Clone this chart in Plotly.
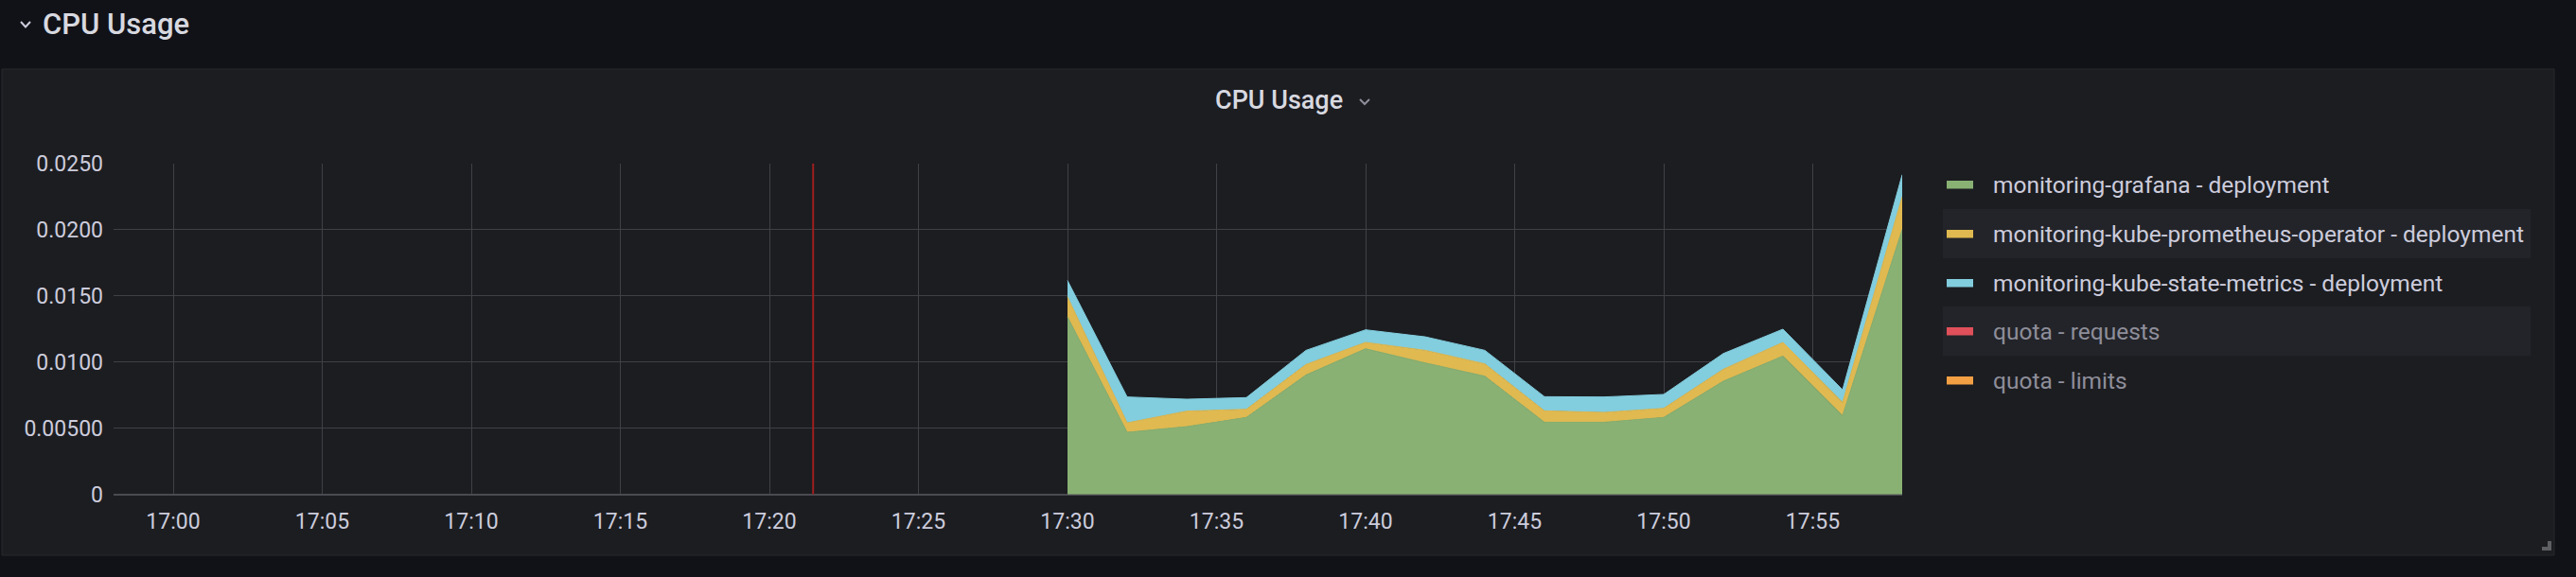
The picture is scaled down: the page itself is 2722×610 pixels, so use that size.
import plotly.graph_objects as go

W, H = 2722, 610

# ---------------- data ----------------
day = "2024-01-01 "
times = ["17:30", "17:32", "17:34", "17:36", "17:38", "17:40", "17:42", "17:44",
         "17:46", "17:48", "17:50", "17:52", "17:54", "17:56", "17:58"]
grafana = [0.01340, 0.00469, 0.00512, 0.00581, 0.00902, 0.01100, 0.00993, 0.00893,
           0.00545, 0.00545, 0.00581, 0.00855, 0.01045, 0.00595, 0.02000]
prom_operator = [0.00152, 0.00071, 0.00117, 0.00062, 0.00079, 0.00048, 0.00095, 0.00093,
                 0.00086, 0.00074, 0.00069, 0.00090, 0.00103, 0.00100, 0.00248]
kube_state = [0.00123, 0.00196, 0.00090, 0.00088, 0.00107, 0.00095, 0.00102, 0.00102,
              0.00107, 0.00117, 0.00105, 0.00119, 0.00100, 0.00095, 0.00166]

legend_names = ["monitoring-grafana - deployment",
                "monitoring-kube-prometheus-operator - deployment",
                "monitoring-kube-state-metrics - deployment",
                "quota - requests",
                "quota - limits"]
legend_active = [True, True, True, False, False]
colors = ["#88b173", "#e0b950", "#82cdde", "#e0505a", "#f2a043"]

y_tickvals = [0, 0.005, 0.010, 0.015, 0.020, 0.025]
y_ticktext = ["0", "0.00500", "0.0100", "0.0150", "0.0200", "0.0250"]
x_range = ["16:58", "17:58"]
annotation_time = "17:21:28"

row_title = "CPU Usage"
panel_title = "CPU Usage"

# ---------------- helpers ----------------
def px(x):
    return x / W

def py(y):
    return 1 - y / H

FONT = "Roboto, 'Open Sans', sans-serif"
TXT = "#ccccdc"
GRID = "#404146"
PANEL = "#1c1d21"
PAGE = "#111217"

fig = go.Figure()
xs = [day + t for t in times]
for name, vals, col in zip(legend_names[:3], [grafana, prom_operator, kube_state], colors[:3]):
    fig.add_trace(go.Scatter(
        x=xs, y=vals, name=name, mode="lines", stackgroup="one",
        line=dict(color=col, width=1), fillcolor=col, hoverinfo="skip",
    ))

shapes = []
# panel background
shapes.append(dict(type="rect", xref="paper", yref="paper", layer="below",
                   x0=px(2), x1=px(2699), y0=py(587), y1=py(73),
                   fillcolor=PANEL, line=dict(color="#27282d", width=1)))
# legend rows
row_y = [195, 247, 299, 350, 402]
for i, (name, col, act) in enumerate(zip(legend_names, colors, legend_active)):
    yc = row_y[i]
    if i % 2 == 1:
        shapes.append(dict(type="rect", xref="paper", yref="paper", layer="below",
                           x0=px(2053), x1=px(2674), y0=py(yc + 26), y1=py(yc - 26),
                           fillcolor="#232429", line=dict(width=0)))
    shapes.append(dict(type="rect", xref="paper", yref="paper",
                       x0=px(2057), x1=px(2085), y0=py(yc + 4.5), y1=py(yc - 4),
                       fillcolor=col, line=dict(width=0)))

# annotation marker (red vertical line)
shapes.append(dict(type="line", xref="x", yref="y",
                   x0=day + annotation_time, x1=day + annotation_time,
                   y0=y_tickvals[0], y1=y_tickvals[-1],
                   line=dict(color="#9c1f1f", width=2)))

# row chevron
shapes.append(dict(type="path", xref="paper", yref="paper",
                   path=f"M {px(22)} {py(23)} L {px(27)} {py(28.5)} L {px(32)} {py(23)}",
                   line=dict(color="#ccccdc", width=2)))
# panel title chevron
shapes.append(dict(type="path", xref="paper", yref="paper",
                   path=f"M {px(1437)} {py(105)} L {px(1442)} {py(110)} L {px(1447)} {py(105)}",
                   line=dict(color="#8e8e9a", width=2)))
# resize handle
shapes.append(dict(type="rect", xref="paper", yref="paper",
                   x0=px(2692), x1=px(2696), y0=py(582), y1=py(572),
                   fillcolor="#5e5f63", line=dict(width=0)))
shapes.append(dict(type="rect", xref="paper", yref="paper",
                   x0=px(2686), x1=px(2696), y0=py(582), y1=py(578),
                   fillcolor="#5e5f63", line=dict(width=0)))

annotations = []
annotations.append(dict(text=row_title, xref="paper", yref="paper", x=px(43), y=py(25),
                        xanchor="left", yanchor="middle", showarrow=False,
                        font=dict(family=FONT, size=31, color="#d8d9e0", weight=500)))
annotations.append(dict(text=panel_title, xref="paper", yref="paper", x=px(1351), y=py(106),
                        xanchor="center", yanchor="middle", showarrow=False,
                        font=dict(family=FONT, size=27, color="#d8d9e0", weight=500)))
for i, (name, act) in enumerate(zip(legend_names, legend_active)):
    annotations.append(dict(text=name, xref="paper", yref="paper", x=px(2104), y=py(row_y[i]),
                            xanchor="left", yanchor="middle", showarrow=False,
                            font=dict(family=FONT, size=24.5, color=TXT if act else "#8e8e9a")))

fig.update_layout(
    width=W, height=H,
    margin=dict(l=0, r=0, t=0, b=0, pad=0, autoexpand=False),
    paper_bgcolor=PAGE, plot_bgcolor=PANEL,
    showlegend=False,
    shapes=shapes, annotations=annotations,
    font=dict(family=FONT, color=TXT),
    xaxis=dict(
        domain=[px(120), px(2010)], type="date", automargin=False,
        range=[day + x_range[0], day + x_range[1]],
        tick0=day + "17:00", dtick=300000, tickformat="%H:%M",
        showgrid=True, gridcolor=GRID, gridwidth=1,
        showline=False, zeroline=False, ticks="",
        tickfont=dict(family=FONT, size=23, color=TXT),
        ticklabelstandoff=12,
    ),
    yaxis=dict(
        domain=[py(522.7), py(172.7)], automargin=False,
        range=[y_tickvals[0], y_tickvals[-1]],
        tickvals=y_tickvals, ticktext=y_ticktext,
        showgrid=True, gridcolor=GRID, gridwidth=1,
        zeroline=True, zerolinecolor="#4a4b50", zerolinewidth=2,
        showline=False, ticks="",
        tickfont=dict(family=FONT, size=23, color=TXT),
        ticklabelstandoff=10,
    ),
)

fig.write_html(
    "out.html",
    config={"displayModeBar": False},
    post_script="document.body.style.margin='0';document.body.style.background='#111217';",
)
